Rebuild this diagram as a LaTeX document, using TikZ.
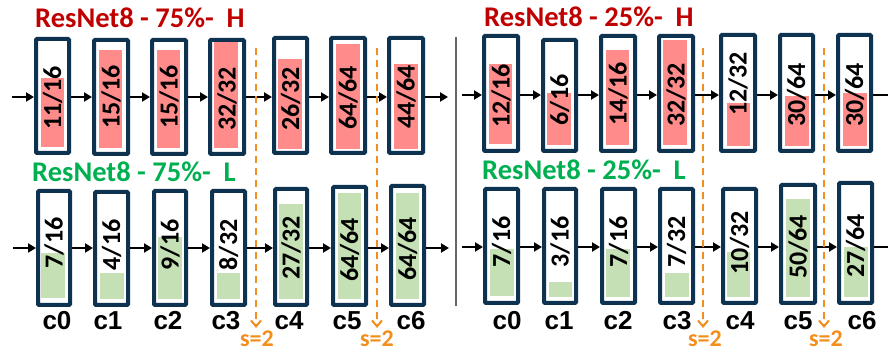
\documentclass[tikz,border=0pt]{standalone}
\usepackage{fontspec}
\setmainfont{Carlito}
\setsansfont{Liberation Sans}
\usetikzlibrary{arrows.meta}
\definecolor{boxnavy}{HTML}{0E3350}
\definecolor{barpink}{HTML}{FF8B8B}
\definecolor{bargreen}{HTML}{C5E0B4}
\definecolor{titlered}{HTML}{C00000}
\definecolor{titlegreen}{HTML}{00B050}
\definecolor{strideorange}{HTML}{F28E1C}
\tikzset{
  cbox/.style={draw=boxnavy, line width=4pt, rounded corners=1pt, inner sep=0pt},
  numtxt/.style={rotate=90, inner sep=0pt, font=\fontsize{26}{26}\selectfont\bfseries},
  flow/.style={draw=black, line width=2pt, -{Triangle[length=8pt,width=9pt]}},
  flowend/.style={draw=black, line width=2pt},
  stride/.style={draw=strideorange, line width=2pt, dash pattern=on 7pt off 5pt,
                 -{Straight Barb[length=6pt,width=10pt,line width=2pt]}},
  stridetxt/.style={text=strideorange, inner sep=0pt, font=\fontsize{24}{24}\selectfont\bfseries},
  layer/.style={anchor=base, inner sep=0pt, font=\fontsize{26}{26}\selectfont\sffamily\bfseries},
  ttl/.style={anchor=base west, inner sep=0pt, font=\fontsize{28.5}{28.5}\selectfont\bfseries},
}
\begin{document}
\begin{tikzpicture}[x=1pt,y=-1pt]
\useasboundingbox (0,0) rectangle (888,352);

% row anchors for the horizontal data flow
\coordinate (ra) at (0,97);
\coordinate (rb) at (0,95);
\coordinate (rc) at (0,248);
\coordinate (rd) at (0,247);
\coordinate (ina) at (12,97);
\coordinate (inb) at (462,95);
\coordinate (inc) at (13,248);
\coordinate (ind) at (462,247);
\coordinate (outa) at (448,97);
\coordinate (outb) at (888,95);
\coordinate (outc) at (449,248);
\coordinate (outd) at (888,247);

% titles
\node[ttl, text=titlered] (tA) at (35,28) {ResNet8 - 75\%-\ \ H};
\node[ttl, text=titlered] (tB) at (484,27) {ResNet8 - 25\%-\ \ H};
\node[ttl, text=titlegreen] (tC) at (32,182) {ResNet8 - 75\%-\ \ L};
\node[ttl, text=titlegreen] (tD) at (482,180) {ResNet8 - 25\%-\ \ L};

% separator between the two models
\coordinate (sepT) at (456,37);
\coordinate (sepB) at (456,306);
\draw[draw=black!60, line width=1.2pt] (sepT) -- (sepB);

% channel blocks: name / box x1,y1,x2,y2 / bar x1,y1,x2,y2 / kept / total / label y
\foreach \n/\xa/\ya/\xb/\yb/\fa/\fb/\fc/\fd/\p/\q/\ty in {
  a0/34/37/71/155/41/78/64/147/11/16/98,
  a1/92/38/130/156/99/50/122/148/15/16/97,
  a2/150/38/188/156/157/50/180/148/15/16/97,
  a3/208/38/246/156/214/42/238/148/32/32/99,
  a4/272/36/309/155/278/59/302/149/26/32/99,
  a5/329/36/367/155/336/44/360/149/64/64/98,
  a6/387/36/425/155/394/64/418/149/44/64/97,
  b0/482/34/520/153/489/64/512/144/12/16/96,
  b1/541/38/578/153/547/93/571/145/6/16/100,
  b2/599/34/637/153/606/50/629/145/14/16/94,
  b3/657/34/695/153/663/40/687/145/32/32/95,
  b4/719/33/757/153/727/103/750/146/12/32/84,
  b5/778/33/815/153/785/96/809/146/30/64/95,
  b6/836/33/873/153/843/93/867/146/30/64/95}
{
  \node[cbox, minimum width={\xb-\xa-4}, minimum height={\yb-\ya-4}]
    (\n) at ({(\xa+\xb)/2},{(\ya+\yb)/2}) {};
  \fill[barpink] (\fa,\fb) rectangle (\fc,\fd);
  \node[numtxt] (\n-t) at ({(\xa+\xb)/2},\ty) {\p/\q};
}
\foreach \n/\xa/\ya/\xb/\yb/\fa/\fb/\fc/\fd/\p/\q/\ty in {
  c0/36/189/72/307/41/253/65/298/7/16/243,
  c1/93/190/130/307/100/273/124/299/4/16/245,
  c2/152/189/188/307/158/237/182/299/9/16/245,
  c3/210/189/247/307/217/273/240/299/8/32/245,
  c4/273/187/309/307/279/204/303/299/27/32/248,
  c5/331/185/368/307/338/193/361/299/64/64/250,
  c6/389/184/426/307/396/193/419/299/64/64/249,
  d0/483/187/520/305/490/249/514/296/7/16/242,
  d1/542/187/578/305/549/282/572/297/3/16/242,
  d2/600/187/637/305/606/249/630/297/7/16/242,
  d3/658/187/695/305/665/273/689/297/7/32/242,
  d4/721/187/758/305/727/252/750/297/10/32/243,
  d5/779/183/817/305/786/199/810/297/50/64/247,
  d6/837/181/874/305/844/247/868/297/27/64/246}
{
  \node[cbox, minimum width={\xb-\xa-4}, minimum height={\yb-\ya-4}]
    (\n) at ({(\xa+\xb)/2},{(\ya+\yb)/2}) {};
  \fill[bargreen] (\fa,\fb) rectangle (\fc,\fd);
  \node[numtxt] (\n-t) at ({(\xa+\xb)/2},\ty) {\p/\q};
}

% data flow arrows
\foreach \r in {a,b,c,d}{
  \draw[flow] (in\r) -- (\r0.west |- r\r);
  \foreach \i [evaluate=\i as \j using int(\i+1)] in {0,...,5}
    \draw[flow] (\r\i.east |- r\r) -- (\r\j.west |- r\r);
}
\draw[flow] (a6.east |- ra) -- (outa);
\draw[flowend] (b6.east |- rb) -- (outb);
\draw[flow] (c6.east |- rc) -- (outc);
\draw[flowend] (d6.east |- rd) -- (outd);

% layer names
\foreach \n/\x in {0/57,1/108,2/168,3/226,4/289,5/347,6/411}
  \node[layer] (lc\n) at (\x,329) {c\n};
\foreach \n/\x in {0/507,1/559,2/618,3/677,4/740,5/798,6/862}
  \node[layer] (ld\n) at (\x,329) {c\n};

% stride-2 downsampling markers
\foreach \k/\x/\lx in {1/256/257,2/377/377,3/703/705,4/824/826}{
  \coordinate (sT\k) at (\x,48);
  \coordinate (sB\k) at (\x,328);
  \draw[stride] (sT\k) -- (sB\k);
  \node[stridetxt] (sL\k) at (\lx,339) {s=2};
}
\end{tikzpicture}
\end{document}
